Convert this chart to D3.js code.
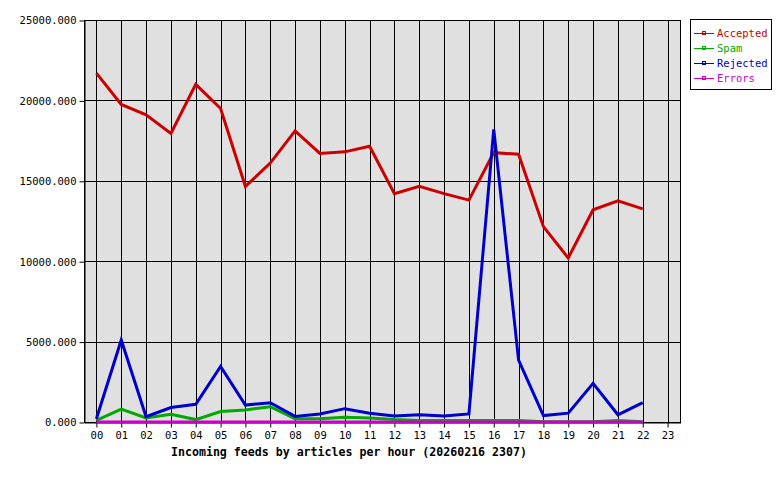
<!DOCTYPE html>
<html><head><meta charset="utf-8">
<script src="https://cdn.jsdelivr.net/npm/d3@7"></script>
<style>body{margin:0;background:#fff}svg{display:block}</style>
</head><body>
<script>
const hours = ["00","01","02","03","04","05","06","07","08","09","10","11","12","13","14","15","16","17","18","19","20","21","22","23"];
const accepted = [21700,19750,19100,17950,21000,19500,14650,16100,18100,16700,16800,17150,14200,14650,14200,13800,16750,16650,12150,10200,13200,13750,13250];
const spam     = [100,800,250,480,150,650,750,950,200,200,300,250,150,100,100,100,100,100,20,20,20,100,20];
const rejected = [200,5100,330,900,1100,3450,1050,1200,350,500,830,550,370,450,370,500,18200,3850,400,550,2400,450,1200];
const errors   = [0,0,0,0,0,0,0,0,0,0,0,0,0,0,0,0,0,0,0,0,0,0,0];
const yTicks = [0,5000,10000,15000,20000,25000];
const seriesNames = ["Accepted","Spam","Rejected","Errors"];
const seriesColors = ["#cc0000","#00aa00","#0000cc","#cc00cc"];
const seriesData = [accepted, spam, rejected, errors];
const title = "Incoming feeds by articles per hour (20260216 2307)";

const W=780,H=480, L=84,R=680,T=20,B=422;
const svg = d3.select("body").append("svg").attr("width",W).attr("height",H);
const font = "'DejaVu Sans Mono', monospace";

const x = d3.scaleBand().domain(hours).range([L,R]).paddingInner(0).paddingOuter(0);
const xc = h => x(h) + x.bandwidth()/2;
const y = d3.scaleLinear().domain([0,25000]).range([B,T]);

svg.append("rect").attr("x",L).attr("y",T).attr("width",R-L).attr("height",B-T).attr("fill","#e0e0e0");

// horizontal grid
svg.append("g").selectAll("line").data(yTicks).join("line")
  .attr("x1",L).attr("x2",R).attr("y1",d=>y(d)+0.5).attr("y2",d=>y(d)+0.5)
  .attr("stroke","#000").attr("stroke-width",1).attr("shape-rendering","crispEdges");
// vertical grid
svg.append("g").selectAll("line").data(hours).join("line")
  .attr("x1",d=>Math.round(xc(d))+0.5).attr("x2",d=>Math.round(xc(d))+0.5).attr("y1",T).attr("y2",B)
  .attr("stroke","#000").attr("shape-rendering","crispEdges");

// axes
const yAxis = d3.axisLeft(y).tickValues(yTicks).tickFormat(d=>d3.format(".3f")(d)).tickSizeInner(5).tickSizeOuter(0).tickPadding(3);
const gy = svg.append("g").attr("transform",`translate(${L+0.5},0.5)`).call(yAxis);
const xAxis = d3.axisBottom(x).tickSizeInner(5).tickSizeOuter(0).tickPadding(4);
const gx = svg.append("g").attr("transform",`translate(0.5,${B+0.5})`).call(xAxis);
[gy,gx].forEach(g=>{
  g.selectAll("path").attr("stroke","#000");
  g.selectAll("line").attr("stroke","#000");
  g.selectAll("text").attr("font-family",font).attr("font-size","10.5px").attr("fill","#000");
});
// frame
svg.append("rect").attr("x",L+0.5).attr("y",T+0.5).attr("width",R-L).attr("height",B-T)
  .attr("fill","none").attr("stroke","#000");

// lines
const line = d3.line().x((d,i)=>xc(hours[i])).y(d=>y(d));
seriesData.forEach((data,k)=>{
  svg.append("path").datum(data).attr("d",line).attr("fill","none")
    .attr("stroke",seriesColors[k]).attr("stroke-width",3).attr("stroke-linejoin","miter");
});

// title
svg.append("text").attr("x",349).attr("y",456).attr("text-anchor","middle")
  .attr("font-family",font).attr("font-weight","bold").attr("font-size","11.6px").text(title);

// legend
const lg = svg.append("g");
lg.append("rect").attr("x",690.5).attr("y",19.5).attr("width",81).attr("height",70).attr("fill","#fff").attr("stroke","#000");
seriesNames.forEach((n,i)=>{
  const yy = 33 + i*15;
  lg.append("line").attr("x1",694).attr("x2",714).attr("y1",yy+0.5).attr("y2",yy+0.5).attr("stroke",seriesColors[i]);
  lg.append("rect").attr("x",702.5).attr("y",yy-1.5).attr("width",3).attr("height",3).attr("fill","none").attr("stroke",seriesColors[i]).attr("stroke-width",1);
  lg.append("text").attr("x",717).attr("y",yy+4).attr("font-family",font).attr("font-size","10.5px").attr("fill",seriesColors[i]).text(n);
});
</script>
</body></html>
